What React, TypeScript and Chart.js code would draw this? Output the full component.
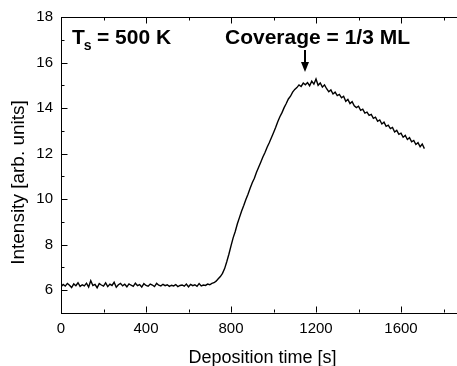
import React, { useEffect, useRef } from 'react';
import { Chart, registerables } from 'chart.js';

Chart.register(...registerables);

// Deposition time [s]
const times = [
  0, 10, 20, 30, 40, 50, 60, 70, 80, 90,
  100, 110, 120, 130, 140, 150, 160, 170, 180, 190,
  200, 210, 220, 230, 240, 250, 260, 270, 280, 290,
  300, 310, 320, 330, 340, 350, 360, 370, 380, 390,
  400, 410, 420, 430, 440, 450, 460, 470, 480, 490,
  500, 510, 520, 530, 540, 550, 560, 570, 580, 590,
  600, 610, 620, 630, 640, 650, 660, 670, 680, 690,
  700, 710, 720, 730, 740, 750, 760, 770, 780, 790,
  800, 810, 820, 830, 840, 850, 860, 870, 880, 890,
  900, 910, 920, 930, 940, 950, 960, 970, 980, 990,
  1000, 1010, 1020, 1030, 1040, 1050, 1060, 1070, 1080, 1090,
  1100, 1110, 1120, 1130, 1140, 1150, 1160, 1170, 1180, 1190,
  1200, 1210, 1220, 1230, 1240, 1250, 1260, 1270, 1280, 1290,
  1300, 1310, 1320, 1330, 1340, 1350, 1360, 1370, 1380, 1390,
  1400, 1410, 1420, 1430, 1440, 1450, 1460, 1470, 1480, 1490,
  1500, 1510, 1520, 1530, 1540, 1550, 1560, 1570, 1580, 1590,
  1600, 1610, 1620, 1630, 1640, 1650, 1660, 1670, 1680, 1690,
  1700, 1710,
];

// Intensity [arb. units]
const intensity = [
  6.15, 6.25, 6.18, 6.30, 6.22, 6.12, 6.28, 6.20, 6.33, 6.17,
  6.24, 6.19, 6.31, 6.14, 6.42, 6.21, 6.26, 6.11, 6.29, 6.23,
  6.18, 6.32, 6.16, 6.27, 6.21, 6.35, 6.13, 6.24, 6.30, 6.19,
  6.26, 6.15, 6.28, 6.22, 6.17, 6.31, 6.20, 6.25, 6.14, 6.29,
  6.21, 6.18, 6.27, 6.23, 6.16, 6.30, 6.22, 6.19, 6.26, 6.20,
  6.24, 6.17, 6.22, 6.19, 6.25, 6.16, 6.21, 6.23, 6.18, 6.27,
  6.15, 6.26, 6.20, 6.24, 6.17, 6.29, 6.19, 6.23, 6.21, 6.27,
  6.24, 6.30, 6.33, 6.40, 6.50, 6.60, 6.74, 6.95, 7.25, 7.58,
  7.95, 8.30, 8.58, 8.92, 9.20, 9.48, 9.72, 9.98, 10.22, 10.48,
  10.72, 10.92, 11.18, 11.40, 11.62, 11.85, 12.05, 12.28, 12.48, 12.70,
  12.92, 13.15, 13.40, 13.62, 13.80, 14.02, 14.20, 14.40, 14.52, 14.70,
  14.82, 14.90, 15.02, 14.95, 15.10, 15.02, 15.12, 14.98, 15.18, 15.05,
  15.28, 15.00, 15.10, 14.92, 15.02, 14.85, 14.72, 14.80, 14.62, 14.70,
  14.55, 14.60, 14.45, 14.52, 14.30, 14.38, 14.20, 14.28, 14.10, 14.02,
  14.08, 13.90, 13.95, 13.78, 13.82, 13.68, 13.72, 13.55, 13.60, 13.42,
  13.48, 13.30, 13.38, 13.20, 13.25, 13.10, 13.15, 12.95, 13.02, 12.85,
  12.90, 12.72, 12.80, 12.62, 12.70, 12.52, 12.58, 12.40, 12.48, 12.30,
  12.42, 12.22,
];

const xTickValues = [0, 400, 800, 1200, 1600];
const xMinorTicks = [200, 600, 1000, 1400, 1800];
const yTickValues = [6, 8, 10, 12, 14, 16, 18];
const yMinorTicks = [5, 7, 9, 11, 13, 15, 17];

const xTitle = 'Deposition time [s]';
const yTitle = 'Intensity [arb. units]';
const tempLabel = ['T', 's', '= 500 K'];
const coverageLabel = 'Coverage = 1/3 ML';
const arrowX = 1150;
const arrowTipY = 15.58;
const arrowTailY = 16.55;

const FONT = '"Liberation Sans", Arial, Helvetica, sans-serif';

const decorPlugin = {
  id: 'decor',
  afterDraw(chart: any) {
    const { ctx, chartArea: a, scales } = chart;
    const x = scales.x;
    const y = scales.y;
    ctx.save();
    ctx.strokeStyle = '#000';
    ctx.fillStyle = '#000';
    ctx.lineWidth = 1;

    const top = Math.round(a.top) + 0.5;
    const bottom = Math.round(a.bottom) - 0.5;
    const left = Math.round(a.left) + 0.5;

    // top axis line
    ctx.beginPath();
    ctx.moveTo(a.left, top);
    ctx.lineTo(a.right, top);
    ctx.stroke();

    ctx.beginPath();
    const xTick = (v: number, len: number) => {
      const px = Math.round(x.getPixelForValue(v)) + 0.5;
      ctx.moveTo(px, bottom);
      ctx.lineTo(px, bottom - len);
      ctx.moveTo(px, top);
      ctx.lineTo(px, top + len);
    };
    xTickValues.forEach((v) => xTick(v, 6));
    xMinorTicks.forEach((v) => xTick(v, 3));
    const yTick = (v: number, len: number) => {
      const py = Math.round(y.getPixelForValue(v)) + 0.5;
      ctx.moveTo(left, py);
      ctx.lineTo(left + len, py);
    };
    yTickValues.forEach((v) => yTick(v, 6));
    yMinorTicks.forEach((v) => yTick(v, 3));
    ctx.stroke();

    // annotation: T_s = 500 K
    ctx.textBaseline = 'alphabetic';
    ctx.textAlign = 'left';
    ctx.font = `bold 21px ${FONT}`;
    let tx = 72;
    ctx.fillText(tempLabel[0], tx, 44);
    tx += ctx.measureText(tempLabel[0]).width;
    ctx.font = `bold 14px ${FONT}`;
    ctx.fillText(tempLabel[1], tx - 1, 50);
    ctx.font = `bold 21px ${FONT}`;
    ctx.fillText(tempLabel[2], 97, 44);

    // annotation: Coverage
    ctx.fillText(coverageLabel, 225, 44);

    // arrow
    const ax = Math.round(x.getPixelForValue(arrowX));
    const tipY = y.getPixelForValue(arrowTipY);
    const tailY = y.getPixelForValue(arrowTailY);
    ctx.lineWidth = 2;
    ctx.beginPath();
    ctx.moveTo(ax, tailY);
    ctx.lineTo(ax, tipY - 8);
    ctx.stroke();
    ctx.beginPath();
    ctx.moveTo(ax - 4, tipY - 10);
    ctx.lineTo(ax + 4, tipY - 10);
    ctx.lineTo(ax, tipY);
    ctx.closePath();
    ctx.fill();

    // axis titles
    ctx.font = `18px ${FONT}`;
    ctx.textAlign = 'center';
    ctx.fillText(xTitle, 262.5, 363);

    ctx.save();
    ctx.translate(24, 182.5);
    ctx.rotate(-Math.PI / 2);
    ctx.font = `19px ${FONT}`;
    ctx.fillText(yTitle, 0, 0);
    ctx.restore();

    ctx.restore();
  },
};

export default function App() {
  const ref = useRef<HTMLCanvasElement | null>(null);

  useEffect(() => {
    if (!ref.current) return;
    const points = times.map((t, i) => ({ x: t, y: intensity[i] }));
    const chart = new Chart(ref.current, {
      type: 'line',
      data: {
        datasets: [
          {
            data: points,
            borderColor: '#000',
            borderWidth: 1.4,
            pointRadius: 0,
            tension: 0,
            fill: false,
          },
        ],
      },
      options: {
        animation: false,
        responsive: false,
        devicePixelRatio: 1,
        events: [],
        layout: { padding: { top: 17, right: 24, bottom: 0, left: 0 } },
        plugins: {
          legend: { display: false },
          tooltip: { enabled: false },
        },
        scales: {
          x: {
            type: 'linear',
            min: 0,
            max: 2000,
            afterBuildTicks: (scale: any) => {
              scale.ticks = xTickValues.map((v) => ({ value: v }));
            },
            afterFit: (scale: any) => {
              scale.height = 53;
            },
            grid: { display: false, drawTicks: false },
            border: { display: true, color: '#000', width: 1 },
            ticks: {
              color: '#000',
              padding: 7,
              maxRotation: 0,
              autoSkip: false,
              font: { family: FONT, size: 15 },
              callback: (v: any) => String(v),
            },
          },
          y: {
            type: 'linear',
            min: 5,
            max: 18,
            afterBuildTicks: (scale: any) => {
              scale.ticks = yTickValues.map((v) => ({ value: v }));
            },
            afterFit: (scale: any) => {
              scale.width = 61;
            },
            grid: { display: false, drawTicks: false },
            border: { display: true, color: '#000', width: 1 },
            ticks: {
              color: '#000',
              padding: 8,
              autoSkip: false,
              font: { family: FONT, size: 15 },
              callback: (v: any) => String(v),
            },
          },
        },
      },
      plugins: [decorPlugin],
    });
    return () => chart.destroy();
  }, []);

  return (
    <div
      style={{
        position: 'absolute',
        left: 0,
        top: 0,
        width: 457,
        height: 366,
        overflow: 'hidden',
        background: '#fff',
      }}
    >
      <canvas ref={ref} width={510} height={366} style={{ display: 'block' }} />
    </div>
  );
}
